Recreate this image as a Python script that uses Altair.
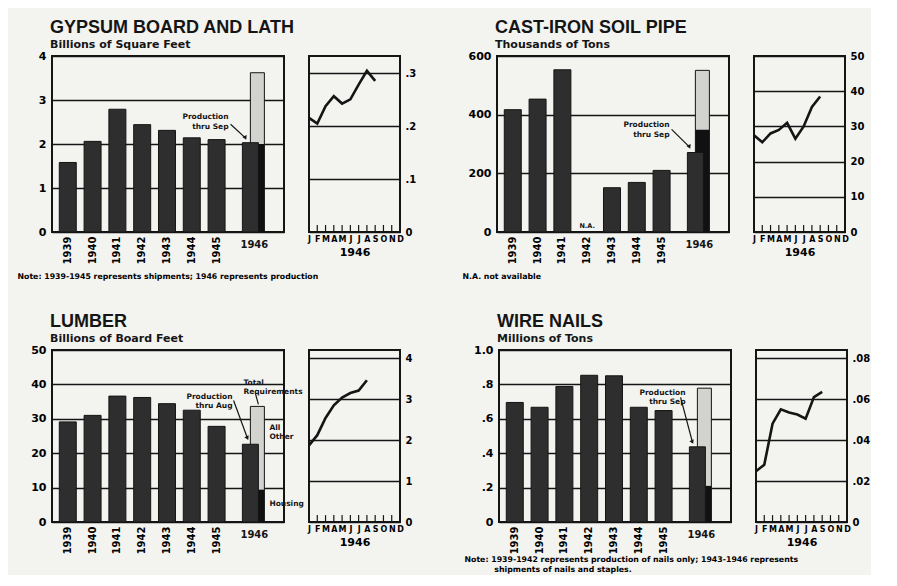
import altair as alt
import pandas as pd

TFONT = "Liberation Sans"
FONT = "DejaVu Sans"
INK = "#151515"
BAR = "#2e2e2e"
REQ_BASE = "#111111"
REQ_TOP = "#d2d2cf"
PAPER = "#f3f3f0"

YEARS = ["1939", "1940", "1941", "1942", "1943", "1944", "1945", "1946"]
MONTHS = ["Jan", "Feb", "Mar", "Apr", "May", "Jun", "Jul", "Aug", "Sep", "Oct", "Nov", "Dec"]

# Gypsum board and lath (billions of square feet)
gypsum_annual = [1.58, 2.06, 2.79, 2.44, 2.31, 2.14, 2.10]
gypsum_prod_1946 = 2.03
gypsum_req_lower = 2.00
gypsum_req_total = 3.62
gypsum_monthly = [0.216, 0.205, 0.238, 0.257, 0.243, 0.251, 0.279, 0.305, 0.286]

# Cast-iron soil pipe (thousands of tons); 1942 not available
castiron_annual = [417, 453, 553, None, 151, 169, 210]
castiron_prod_1946 = 271
castiron_req_lower = 349
castiron_req_total = 551
castiron_monthly = [27.5, 25.5, 28.0, 29.0, 31.0, 26.5, 30.0, 35.5, 38.5]

# Lumber (billions of board feet)
lumber_annual = [29.1, 31.0, 36.6, 36.2, 34.4, 32.5, 27.8]
lumber_prod_1946 = 22.6
lumber_req_lower = 9.4
lumber_req_total = 33.6
lumber_monthly = [1.87, 2.12, 2.54, 2.85, 3.04, 3.15, 3.21, 3.46]

# Wire nails (millions of tons)
nails_annual = [0.695, 0.667, 0.788, 0.853, 0.850, 0.667, 0.648]
nails_prod_1946 = 0.437
nails_req_lower = 0.21
nails_req_total = 0.778
nails_monthly = [0.0248, 0.028, 0.048, 0.055, 0.0535, 0.0525, 0.0505, 0.061, 0.0635]

BAR_W = 232
LINE_W = 91
GAP = 25
PLOT_H = [176, 172]
FRAME = alt.ViewBackground(stroke=INK, strokeWidth=2)


def frac_expr(decimals):
    return f"datum.value == 0 ? '0' : replace(format(datum.value, '.{decimals}f'), '0.', '.')"


XS = alt.Scale(domain=YEARS, paddingInner=0.315, paddingOuter=0.835, align=0.176)


def bar_chart(title, subtitle, annual, prod, req_lower, req_total, ymax, yvals, ylab,
              height, note=None, note_y=40, texts=(), arrows=(), na_years=()):
    xaxis_kw = dict(labelAngle=270, labelExpr="datum.label == '1946' ? '' : datum.label",
                    labelFontSize=10, labelFontWeight="bold", labelPadding=4,
                    domain=False, ticks=False)
    if note:
        xaxis_kw.update(title=note, titleX=-35, titleY=note_y, titleAlign="left", titleAnchor="start",
                        titleBaseline="top", titleFontSize=7.8, titleFontWeight="bold",
                        titleLineHeight=10.5)
    else:
        xaxis_kw.update(title=None)
    xenc = alt.X("year:N", scale=XS, axis=alt.Axis(**xaxis_kw))
    yaxis_kw = dict(values=yvals, grid=True, gridColor=INK, gridWidth=1.4, domain=False,
                    ticks=False, labelPadding=6, labelFontSize=11, labelFontWeight="bold",
                    title=".", titleX=-30, titleFontSize=6, titleOpacity=0)
    if ylab:
        yaxis_kw["labelExpr"] = ylab
    yenc = alt.Y("value:Q", scale=alt.Scale(domain=[0, ymax], nice=False), axis=alt.Axis(**yaxis_kw))

    ann = pd.DataFrame({"year": YEARS[:7], "value": annual}).dropna()
    layers = [
        alt.Chart(ann).mark_bar(color=BAR, stroke=INK, strokeWidth=1).encode(x=xenc, y=yenc),
        alt.Chart(pd.DataFrame({"year": ["1946"], "value": [req_total]}))
        .mark_bar(color=REQ_TOP, stroke=INK, strokeWidth=1, width=14, xOffset=16)
        .encode(x=xenc, y=yenc),
        alt.Chart(pd.DataFrame({"year": ["1946"], "value": [req_lower]}))
        .mark_bar(color=REQ_BASE, width=14, xOffset=16)
        .encode(x=xenc, y=yenc),
        alt.Chart(pd.DataFrame({"year": ["1946"], "value": [prod]}))
        .mark_bar(color=BAR, stroke=INK, strokeWidth=1, width=16, xOffset=9)
        .encode(x=xenc, y=yenc),
        alt.Chart(pd.DataFrame({"year": ["1946"], "value": [0], "label": ["1946"]}))
        .mark_text(dx=13, dy=8, baseline="top", fontSize=10, fontWeight="bold", font=FONT, color=INK)
        .encode(x=xenc, y=yenc, text="label:N"),
    ]
    for yr in na_years:
        layers.append(
            alt.Chart(pd.DataFrame({"year": [yr], "value": [0], "label": ["N.A."]}))
            .mark_text(dy=-3, baseline="bottom", fontSize=6.5, fontWeight="bold", font=FONT, color=INK)
            .encode(x=xenc, y=yenc, text="label:N"))
    for (yr, val, txt, align, dx) in texts:
        layers.append(
            alt.Chart(pd.DataFrame({"year": [yr], "value": [val], "label": [txt]}))
            .mark_text(align=align, baseline="top", dx=dx, lineBreak="\n", lineHeight=9.5,
                       fontSize=7.5, fontWeight="bold", font=FONT, color=INK)
            .encode(x=xenc, y=yenc, text="label:N"))
    for (y1, v1, dx1, y2, v2, dx2, head) in arrows:
        layers.append(
            alt.Chart(pd.DataFrame({"year": [y1], "value": [v1], "year2": [y2], "value2": [v2]}))
            .mark_rule(color=INK, strokeWidth=1.2, xOffset=dx1, x2Offset=dx2)
            .encode(x=xenc, x2="year2:N", y=yenc, y2="value2:Q"))
        if head:
            layers.append(
                alt.Chart(pd.DataFrame({"year": [y2], "value": [v2]}))
                .mark_point(shape="triangle-down", filled=True, size=22, color=INK, opacity=1,
                            xOffset=dx2, angle=335)
                .encode(x=xenc, y=yenc))
    return alt.layer(*layers).properties(
        width=BAR_W, height=height, view=FRAME,
        title=alt.TitleParams(text=title, subtitle=subtitle, anchor="start", frame="group", dx=-2,
                              fontSize=18, subtitleFontSize=11, font=TFONT, subtitleFont=FONT,
                              fontWeight="bold", subtitleFontWeight="bold", color=INK,
                              subtitleColor=INK, subtitlePadding=2, offset=0))


def line_chart(monthly, ymax, yvals, ylab, height):
    xenc = alt.X("month:N", scale=alt.Scale(type="point", domain=MONTHS, padding=0),
                 axis=alt.Axis(labelExpr="substring(datum.label, 0, 1)", labelAngle=0,
                               labelFontSize=8, labelFontWeight="bold", labelPadding=3,
                               domain=False, ticks=False, title="1946", titleFontSize=11,
                               titleFontWeight="bold", titlePadding=3))
    yaxis_kw = dict(orient="right", values=yvals, grid=True, gridColor=INK, gridWidth=1.4,
                    domain=False, ticks=False, labelPadding=5, labelFontSize=10,
                    labelFontWeight="bold", title=None)
    if ylab:
        yaxis_kw["labelExpr"] = ylab
    yenc = alt.Y("value:Q", scale=alt.Scale(domain=[0, ymax], nice=False), axis=alt.Axis(**yaxis_kw))
    tick_df = pd.DataFrame({"month": MONTHS[1:11], "value": [0] * 10})
    ticks = alt.Chart(tick_df).mark_rule(color=INK, strokeWidth=1.2).encode(
        x=xenc, y=yenc, y2=alt.Y2Datum(ymax * 0.04))
    df = pd.DataFrame({"month": MONTHS[:len(monthly)], "value": monthly,
                       "idx": list(range(len(monthly)))})
    line = alt.Chart(df).mark_line(color=INK, strokeWidth=2.6).encode(
        x=xenc, y=yenc, order="idx:Q")
    return alt.layer(ticks, line).properties(width=LINE_W, height=height, view=FRAME)


def panel(bar, line):
    return alt.hconcat(bar, line, spacing=GAP, bounds="flush")


gyp = panel(
    bar_chart("GYPSUM BOARD AND LATH", "Billions of Square Feet", gypsum_annual, gypsum_prod_1946,
              gypsum_req_lower, gypsum_req_total, 4, [0, 1, 2, 3, 4], None, PLOT_H[0],
              note="Note: 1939-1945 represents shipments; 1946 represents production",
              texts=[("1945", 2.70, "Production\nthru Sep", "right", 12)],
              arrows=[("1945", 2.45, 14, "1946", 2.14, 4, True)]),
    line_chart(gypsum_monthly, 0.333, [0, 0.1, 0.2, 0.3], frac_expr(1), PLOT_H[0]))

cast = panel(
    bar_chart("CAST-IRON SOIL PIPE", "Thousands of Tons", castiron_annual, castiron_prod_1946,
              castiron_req_lower, castiron_req_total, 600, [0, 200, 400, 600], None, PLOT_H[0],
              note="N.A. not available",
              texts=[("1945", 378, "Production\nthru Sep", "right", 8)],
              arrows=[("1945", 350, 10, "1946", 290, 3, True)],
              na_years=["1942"]),
    line_chart(castiron_monthly, 50, [0, 10, 20, 30, 40, 50], None, PLOT_H[0]))

lum = panel(
    bar_chart("LUMBER", "Billions of Board Feet", lumber_annual, lumber_prod_1946,
              lumber_req_lower, lumber_req_total, 50, [0, 10, 20, 30, 40, 50], None, PLOT_H[1],
              texts=[("1945", 37.6, "Production\nthru Aug", "right", 16),
                     ("1946", 41.7, "Total\nRequirements", "left", 2),
                     ("1946", 28.5, "All\nOther", "left", 28),
                     ("1946", 6.3, "Housing", "left", 28)],
              arrows=[("1945", 35.3, 17, "1946", 24.4, 6, True),
                      ("1946", 37.4, 14, "1946", 34.2, 17, False)]),
    line_chart(lumber_monthly, 4.2, [0, 1, 2, 3, 4], None, PLOT_H[1]))

nails = panel(
    bar_chart("WIRE NAILS", "Millions of Tons", nails_annual, nails_prod_1946,
              nails_req_lower, nails_req_total, 1.0, [0, 0.2, 0.4, 0.6, 0.8, 1.0], frac_expr(1),
              PLOT_H[1],
              note=["Note: 1939-1942 represents production of nails only; 1943-1946 represents",
                    "\u200b" + "\u00a0" * 11 + "shipments of nails and staples."],
              note_y=33,
              texts=[("1945", 0.775, "Production\nthru Sep", "right", 22)],
              arrows=[("1945", 0.725, 17, "1946", 0.465, 4, True)]),
    line_chart(nails_monthly, 0.084, [0, 0.02, 0.04, 0.06, 0.08], frac_expr(2), PLOT_H[1]))

chart = alt.vconcat(
    alt.hconcat(gyp, cast, spacing=43),
    alt.hconcat(lum, nails, spacing=49),
    spacing=31,
).properties(
    padding={"left": 7, "top": 10, "right": 0, "bottom": 0}, background=PAPER
).configure_axis(
    labelFont=FONT, titleFont=FONT, labelColor=INK, titleColor=INK
).configure(font=FONT)

chart.save("out.html", embed_options={"renderer": "svg", "actions": False})
